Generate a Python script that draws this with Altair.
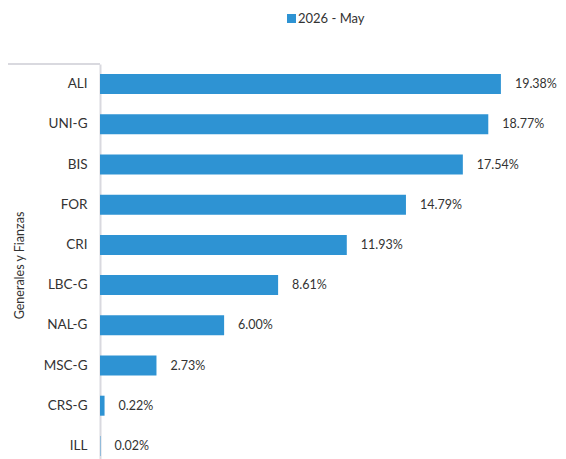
import altair as alt
import pandas as pd

categories = ["ALI", "UNI-G", "BIS", "FOR", "CRI", "LBC-G", "NAL-G", "MSC-G", "CRS-G", "ILL"]
values = [19.38, 18.77, 17.54, 14.79, 11.93, 8.61, 6.00, 2.73, 0.22, 0.02]
series_name = "2026 - May"

df = pd.DataFrame({
    "cat": categories,
    "val": values,
    "series": [series_name] * len(categories),
    "label": [f"{v:.2f}%" for v in values],
})

FONT = "Lato"
BLUE = "#2E93D3"
GRID = "#D9D9DF"

y_enc = alt.Y(
    "cat:N",
    sort=categories,
    scale=alt.Scale(paddingInner=0.5, paddingOuter=0.25),
    axis=alt.Axis(
        title="Generales y Fianzas",
        titleFont=FONT, titleFontSize=12.5, titleFontWeight="normal", titleColor="#333333",
        titleAngle=270, titleX=-81, titleY=201, titleAlign="center", titleBaseline="middle",
        labelFont=FONT, labelFontSize=13.5, labelColor="#333333", labelPadding=13,
        ticks=False, domainColor=GRID, domainWidth=2, grid=False,
    ),
)
x_enc = alt.X(
    "val:Q",
    scale=alt.Scale(domain=[0, 22.14], nice=False),
    axis=None,
)

bars = alt.Chart(df).mark_bar(size=20).encode(
    y=y_enc,
    x=x_enc,
    color=alt.Color(
        "series:N",
        scale=alt.Scale(range=[BLUE]),
        legend=alt.Legend(
            title=None, orient="none", legendX=185, legendY=-52,
            symbolType="square", symbolSize=81, symbolStrokeWidth=0,
            labelFont=FONT, labelFontSize=13, labelColor="#333333", labelOffset=0,
            padding=0,
        ),
    ),
)

labels = alt.Chart(df).mark_text(
    align="left", baseline="middle", dx=14, font=FONT, fontSize=12.5, color="#333333"
).encode(
    y=alt.Y("cat:N", sort=categories),
    x=x_enc,
    text="label:N",
)

bracket = alt.Chart(df).mark_rule(color=GRID, strokeWidth=2).encode(
    x=alt.value(-92), x2=alt.value(0), y=alt.value(0)
)

chart = alt.layer(bars, labels, bracket).properties(
    width=458, height=402,
    autosize=alt.AutoSizeParams(type="none"),
    padding={"left": 92, "top": 56, "right": 0, "bottom": 0},
).configure_view(stroke=None)

chart.save("out.html", embed_options={"renderer": "svg", "actions": False})
